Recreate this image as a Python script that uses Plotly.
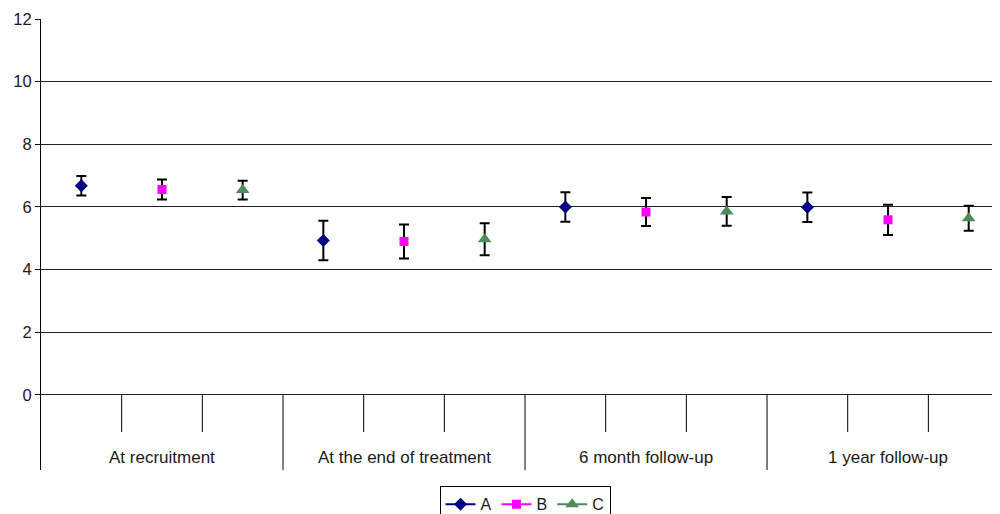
import plotly.graph_objects as go

groups = ["At recruitment", "At the end of treatment", "6 month follow-up", "1 year follow-up"]
series_names = ["A", "B", "C"]
A_vals = [6.68, 4.93, 6.00, 5.99]
A_err = [0.31, 0.63, 0.47, 0.47]
B_vals = [6.56, 4.90, 5.84, 5.59]
B_err = [0.32, 0.54, 0.45, 0.48]
C_vals = [6.54, 4.97, 5.86, 5.64]
C_err = [0.30, 0.51, 0.46, 0.40]
y_ticks = [0, 2, 4, 6, 8, 10, 12]

colors = ["#000080", "#FF00FF", "#4F8B5A"]
symbols = ["diamond", "square", "triangle-up"]
sizes = [10, 9, 12]

n_slots = len(groups) * len(series_names)
fig = go.Figure()
for si, (name, vals, errs) in enumerate(zip(series_names, [A_vals, B_vals, C_vals], [A_err, B_err, C_err])):
    ys = [None] * n_slots
    es = [None] * n_slots
    for gi in range(len(groups)):
        ys[gi * 3 + si] = vals[gi]
        es[gi * 3 + si] = errs[gi]
    fig.add_trace(go.Scatter(
        x=list(range(n_slots)), y=ys, name=name, mode="lines+markers",
        connectgaps=False,
        line=dict(color=colors[si], width=2),
        marker=dict(symbol=symbols[si], size=sizes[si], color=colors[si]),
        error_y=dict(type="data", array=es, visible=True, color="black", thickness=2, width=5),
    ))

ymin = -2.394
shapes = []
for k in range(n_slots - 1):
    xv = k + 0.5
    bottom = ymin if (k + 1) % 3 == 0 else -1.18
    shapes.append(dict(type="line", xref="x", yref="y", x0=xv, x1=xv, y0=0, y1=bottom,
                       line=dict(color="black", width=1)))

annotations = []
for gi, g in enumerate(groups):
    annotations.append(dict(x=gi * 3 + 1, y=-1.98, xref="x", yref="y", text=g, showarrow=False,
                            font=dict(size=17, color="#1a1a1a"), xanchor="center", yanchor="middle"))

# page body has an 8px margin, so the figure is sized/margined to compensate
fig.update_layout(
    width=992, height=506,
    margin=dict(l=33, r=0, t=11, b=44, autoexpand=False),
    paper_bgcolor="white", plot_bgcolor="white",
    font=dict(family="Liberation Sans, Arial, sans-serif", size=16, color="#1a1a1a"),
    xaxis=dict(range=[-0.5, 11.388], showgrid=False, zeroline=False, showticklabels=False,
               showline=False, ticks="", automargin=False),
    yaxis=dict(range=[ymin, 12], tickvals=y_ticks, ticktext=[str(v) for v in y_ticks],
               showgrid=True, gridcolor="#222", gridwidth=1, zeroline=False,
               showline=True, linecolor="black", linewidth=1, ticks="outside", ticklen=5,
               tickcolor="black", tickfont=dict(size=16.5), automargin=False),
    shapes=shapes, annotations=annotations,
    showlegend=True,
    legend=dict(orientation="h", x=0.5047, xanchor="center", y=-0.036, yanchor="top",
                bordercolor="black", borderwidth=1, font=dict(size=16),
                itemwidth=30, tracegroupgap=0),
)

fig.write_html("out.html")
